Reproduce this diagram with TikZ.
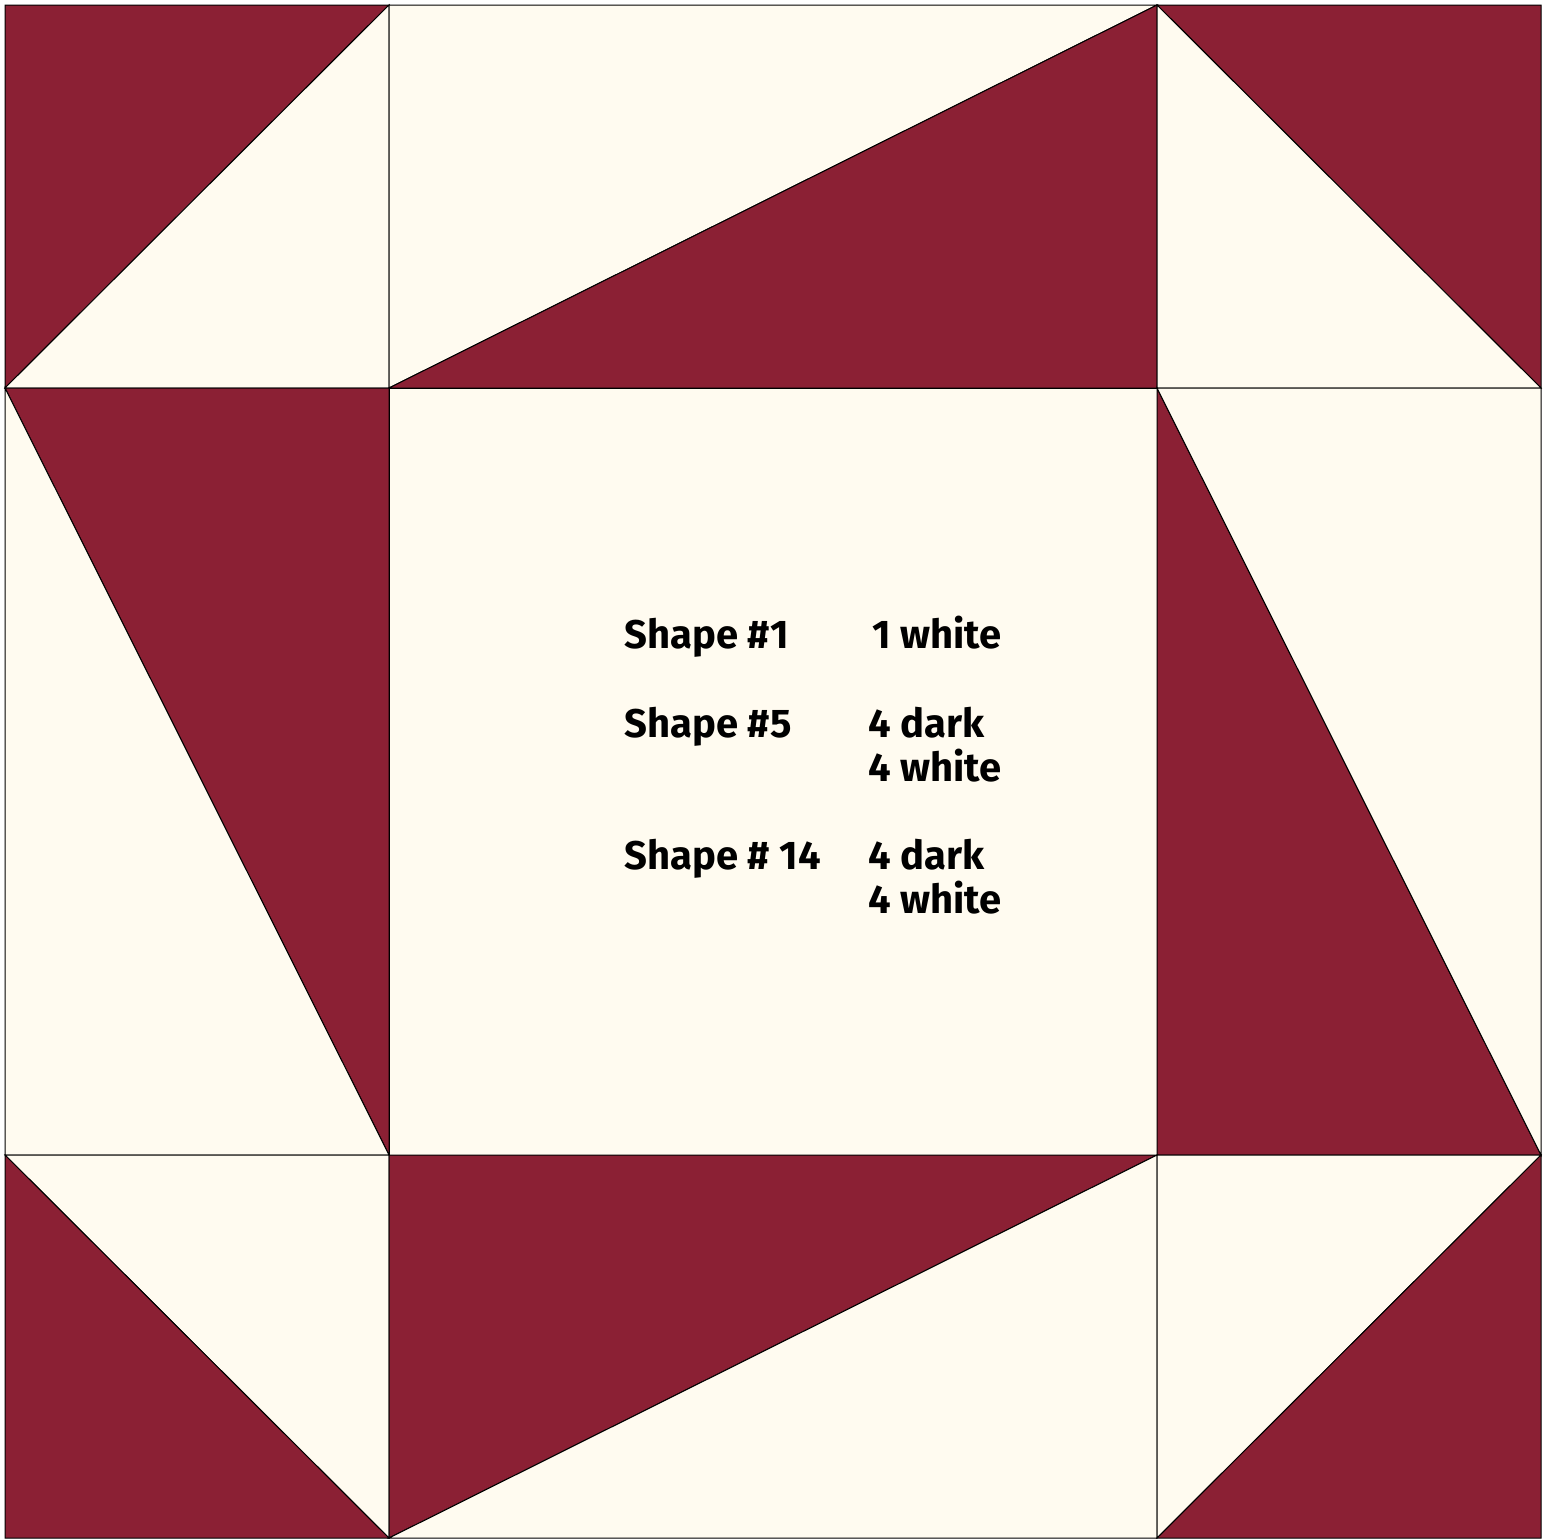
\documentclass[tikz,border=0pt]{standalone}
\usepackage{fontspec}
\setmainfont{Fira Sans}
\definecolor{quiltdark}{RGB}{139,32,52}
\definecolor{quiltlight}{RGB}{255,251,240}
\tikzset{
  dk/.style={fill=quiltdark, draw=black, line width=0.5pt, line join=miter},
  lt/.style={fill=quiltlight, draw=black, line width=0.5pt, line join=miter},
  lbl/.style={anchor=base west, inner sep=0pt, font=\fontsize{20}{22}\selectfont\bfseries}
}
\begin{document}
\begin{tikzpicture}[x=0.5pt,y=-0.5pt]
\useasboundingbox (0,0) rectangle (1553,1538);
\fill[white] (0,0) rectangle (1553,1538);
% top-left
\filldraw[dk] (5,5) -- (389,5) -- (5,388) -- cycle;
\filldraw[lt] (389,5) -- (389,388) -- (5,388) -- cycle;
% top-middle
\filldraw[lt] (389,5) -- (1157,5) -- (389,388) -- cycle;
\filldraw[dk] (1157,5) -- (1157,388) -- (389,388) -- cycle;
% top-right
\filldraw[dk] (1157,5) -- (1541,5) -- (1541,388) -- cycle;
\filldraw[lt] (1157,5) -- (1157,388) -- (1541,388) -- cycle;
% left-middle
\filldraw[dk] (5,388) -- (389,388) -- (389,1155) -- cycle;
\filldraw[lt] (5,388) -- (5,1155) -- (389,1155) -- cycle;
% center
\filldraw[lt] (389,388) rectangle (1157,1155);
% right-middle
\filldraw[dk] (1157,388) -- (1157,1155) -- (1541,1155) -- cycle;
\filldraw[lt] (1157,388) -- (1541,388) -- (1541,1155) -- cycle;
% bottom-left
\filldraw[lt] (5,1155) -- (389,1155) -- (389,1538) -- cycle;
\filldraw[dk] (5,1155) -- (5,1538) -- (389,1538) -- cycle;
% bottom-middle
\filldraw[dk] (389,1155) -- (1157,1155) -- (389,1538) -- cycle;
\filldraw[lt] (1157,1155) -- (1157,1538) -- (389,1538) -- cycle;
% bottom-right
\filldraw[lt] (1157,1155) -- (1541,1155) -- (1157,1538) -- cycle;
\filldraw[dk] (1541,1155) -- (1541,1538) -- (1157,1538) -- cycle;
% texts
\node[lbl] (s1) at (624,648) {Shape \#1};
\node[lbl] (w1) at (872,648) {1 white};
\node[lbl] (s5) at (624,737) {Shape \#5};
\node[lbl] (d5) at (868,737) {4 dark};
\node[lbl] (w5) at (868,781) {4 white};
\node[lbl] (s14) at (624,869) {Shape \# 14};
\node[lbl] (d14) at (868,869) {4 dark};
\node[lbl] (w14) at (868,913) {4 white};
\end{tikzpicture}
\end{document}
